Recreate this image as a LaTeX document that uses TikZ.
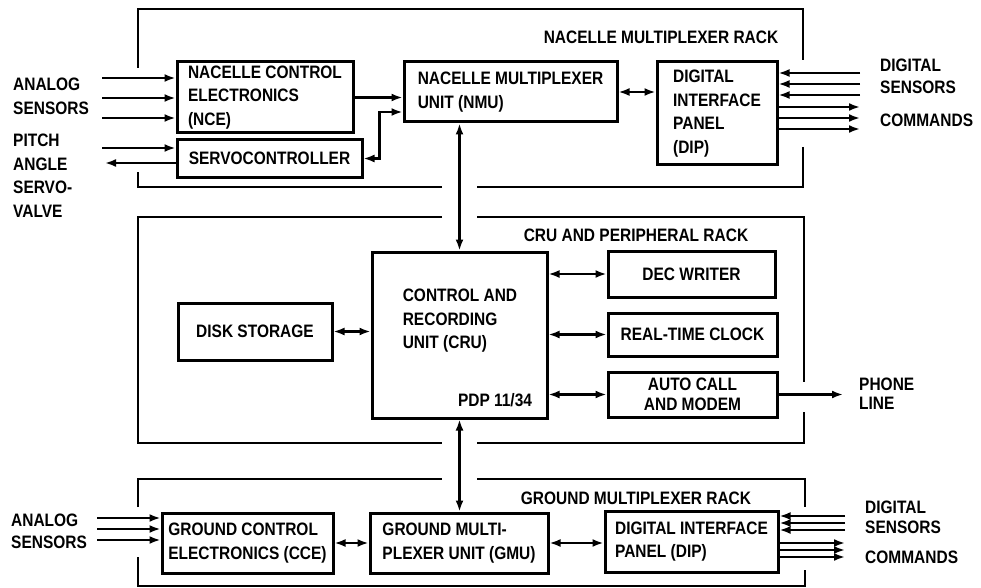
\documentclass[tikz,border=0pt]{standalone}
\usepackage{fontspec}
\setmainfont{Liberation Sans}[FakeStretch=0.86]
\usetikzlibrary{calc,arrows.meta}

\begin{document}
\begin{tikzpicture}[
  x=1pt, y=-1pt,
  font=\bfseries\fontsize{18}{23.5}\selectfont,
  blk/.style={draw, line width=3pt, inner sep=2pt, align=left},
  rack/.style={line width=2.6pt},
  side/.style={anchor=west, inner sep=0pt, align=left},
  arr/.style={-{Latex[length=11pt,width=8pt]}, line width=2.2pt},
  dbl/.style={{Latex[length=11pt,width=8pt]}-{Latex[length=11pt,width=8pt]}, line width=2.2pt}
]
\useasboundingbox (0,0) rectangle (981,588);

% ---- rack outlines ----
\draw[rack] (138,68) -- (138,9) -- (803,9) -- (803,60);
\draw[rack] (803,147) -- (803,187) -- (477,187);
\draw[rack] (442,187) -- (138,187) -- (138,172);

\draw[rack] (442,217) -- (138,217) -- (138,443) -- (442,443);
\draw[rack] (477,217) -- (804,217) -- (804,382);
\draw[rack] (804,412) -- (804,443) -- (477,443);

\draw[rack] (138,507) -- (138,479) -- (442,479);
\draw[rack] (477,479) -- (805,479) -- (805,507);
\draw[rack] (805,570) -- (805,586) -- (138,586) -- (138,557);

\node (nrack) at (661,37)  {NACELLE MULTIPLEXER RACK};
\node (crack) at (636,235) {CRU AND PERIPHERAL RACK};
\node (grack) at (636,498) {GROUND MULTIPLEXER RACK};

% ---- nacelle rack ----
\node[blk, minimum width=176, minimum height=71] (nce)   at (265,97.5)  {NACELLE CONTROL\\ELECTRONICS\\(NCE)};
\node[blk, minimum width=185, minimum height=37, align=center] (servo) at (269.5,158.5) {SERVOCONTROLLER};
\node[blk, minimum width=213, minimum height=60] (nmu)   at (510.5,92)  {NACELLE MULTIPLEXER\\UNIT (NMU)};
\node[blk, minimum width=120, minimum height=103] (dipn) at (717,113.5) {DIGITAL\\INTERFACE\\PANEL\\(DIP)};

% ---- cru rack ----
\node[blk, minimum width=154, minimum height=57, align=center] (disk) at (255,331.5) {DISK STORAGE};
\node[blk, minimum width=175, minimum height=166] (cru) at (459.5,335) {};
\node[align=left] (crutxt) at (460,321) {CONTROL AND\\RECORDING\\UNIT (CRU)};
\node (pdp) at (495,400) {PDP 11/34};
\node[blk, minimum width=167, minimum height=46, align=center] (dec) at (691.5,274)   {DEC WRITER};
\node[blk, minimum width=169, minimum height=43, align=center] (rtc) at (692.5,334.5) {REAL-TIME CLOCK};
\node[blk, minimum width=169, minimum height=45, align=center,
      font=\bfseries\fontsize{18}{20}\selectfont] (acm) at (692.5,394.5) {AUTO CALL\\AND MODEM};

% ---- ground rack ----
\node[blk, minimum width=171, minimum height=60] (cce)  at (247.5,543) {GROUND CONTROL\\ELECTRONICS (CCE)};
\node[blk, minimum width=178, minimum height=60] (gmu)  at (459,543)   {GROUND MULTI-\\PLEXER UNIT (GMU)};
\node[blk, minimum width=173, minimum height=61] (dipg) at (691.5,541.5) {DIGITAL INTERFACE\\PANEL (DIP)};

% ---- outside labels ----
\node[side] (anl)   at (13,96.5)  {ANALOG\\SENSORS};
\node[side] (pitch) at (13,175.5) {PITCH\\ANGLE\\SERVO-\\VALVE};
\node[side, font=\bfseries\fontsize{18}{22}\selectfont] (dsn) at (880,76) {DIGITAL\\SENSORS};
\node[side] (cmd)   at (880,120)  {COMMANDS};
\node[side, font=\bfseries\fontsize{18}{19}\selectfont] (phone) at (859,394) {PHONE\\LINE};
\node[side, font=\bfseries\fontsize{18}{22}\selectfont] (ganl) at (11,531) {ANALOG\\SENSORS};
\node[side, font=\bfseries\fontsize{18}{20}\selectfont] (gdsn) at (865,517) {DIGITAL\\SENSORS};
\node[side] (gcmd)  at (865,557)  {COMMANDS};

% ---- nacelle connectors ----
\foreach \y [count=\i] in {78,98,118} {
  \coordinate (ai\i) at (102,\y);
  \draw[arr] (ai\i) -- (ai\i -| nce.west);
}
\coordinate (pin) at (102,148);
\draw[arr] (pin) -- (pin -| servo.west);
\coordinate (pout) at (105,163);
\draw[arr] (pout -| servo.west) -- (pout);

\draw[arr] (nce.east) -- (nce.east -| nmu.west);
\draw[dbl] (servo.east) -- ++(16,0) |- ($(nmu.west)+(0,20)$);
\draw[dbl] (nmu.east) -- (nmu.east -| dipn.west);

\foreach \y [count=\i] in {73,84,95} {
  \coordinate (ds\i) at (860,\y);
  \draw[arr] (ds\i) -- (ds\i -| dipn.east);
}
\foreach \y [count=\i] in {107,118,129} {
  \coordinate (dc\i) at (860,\y);
  \draw[arr] (dc\i -| dipn.east) -- (dc\i);
}

% ---- vertical links ----
\draw[dbl] (cru.north) -- (cru.north |- nmu.south);
\draw[dbl] (cru.south) -- (cru.south |- gmu.north);

% ---- cru connectors ----
\draw[dbl] (disk.east) -- (disk.east -| cru.west);
\draw[dbl] (dec.west -| cru.east) -- (dec.west);
\draw[dbl] (rtc.west -| cru.east) -- (rtc.west);
\draw[dbl] (acm.west -| cru.east) -- (acm.west);
\coordinate (pl) at (843,394.5);
\draw[arr] (acm.east) -- (pl);

% ---- ground connectors ----
\foreach \y [count=\i] in {518,529,540} {
  \coordinate (gi\i) at (97,\y);
  \draw[arr] (gi\i) -- (gi\i -| cce.west);
}
\draw[dbl] (cce.east) -- (gmu.west);
\draw[dbl] (gmu.east) -- (gmu.east -| dipg.west);
\foreach \y [count=\i] in {516,523,530} {
  \coordinate (gs\i) at (845,\y);
  \draw[arr] (gs\i) -- (gs\i -| dipg.east);
}
\foreach \y [count=\i] in {543,550,557} {
  \coordinate (gc\i) at (845,\y);
  \draw[arr] (gc\i -| dipg.east) -- (gc\i);
}

\end{tikzpicture}
\end{document}
